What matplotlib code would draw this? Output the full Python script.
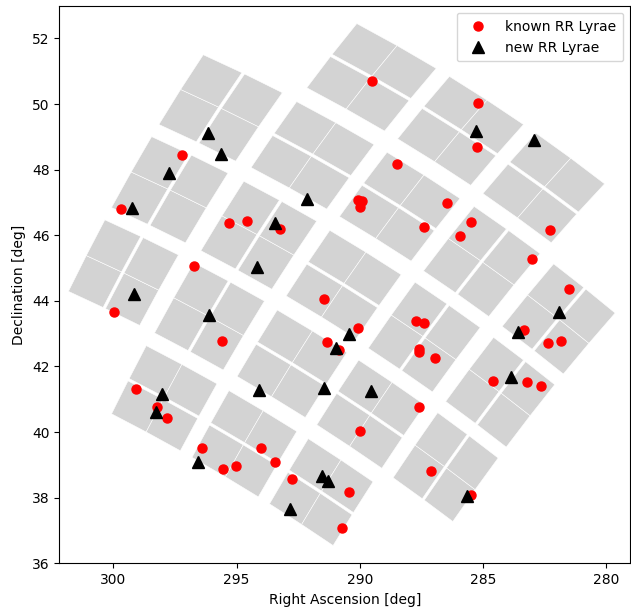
import numpy as np
import matplotlib
matplotlib.use("Agg")
import matplotlib.pyplot as plt
from matplotlib.patches import Polygon

# ---- data ----
known_ra = [289.50, 297.23, 299.70, 295.32, 294.57, 293.24, 290.07, 289.93, 289.99, 296.73,
            291.46, 285.19, 285.25, 288.51, 286.46, 287.41, 285.49, 285.95, 282.29, 283.00,
            281.52, 299.96, 295.61, 290.07, 291.35, 290.84, 289.99, 299.09, 298.22, 297.82,
            296.40, 294.01, 293.43, 295.54, 295.01, 292.74, 290.42, 290.73, 287.72, 287.39,
            287.61, 287.60, 286.95, 287.60, 287.11, 285.50, 284.61, 283.20, 282.65, 283.34,
            282.35, 281.85]
known_dec = [50.71, 48.44, 46.81, 46.36, 46.43, 46.19, 47.08, 47.06, 46.85, 45.05,
             44.05, 50.04, 48.69, 48.16, 46.97, 46.25, 46.40, 45.98, 46.16, 45.27,
             44.36, 43.67, 42.78, 43.16, 42.76, 42.50, 40.02, 41.32, 40.78, 40.43,
             39.50, 39.51, 39.10, 38.89, 38.96, 38.57, 38.16, 37.09, 43.39, 43.33,
             42.54, 42.43, 42.27, 40.75, 38.81, 38.08, 41.57, 41.54, 41.40, 43.11,
             42.72, 42.79]

new_ra = [296.15, 295.63, 297.75, 299.25, 292.16, 293.43, 294.16, 299.15, 296.13, 290.43,
          290.97, 294.08, 291.46, 289.55, 298.04, 298.26, 296.58, 291.55, 291.28, 292.84,
          285.67, 283.85, 283.57, 281.92, 285.27, 282.93]
new_dec = [49.12, 48.49, 47.90, 46.82, 47.11, 46.38, 45.02, 44.22, 43.58, 42.99,
           42.57, 41.27, 41.35, 41.24, 41.17, 40.61, 39.08, 38.65, 38.50, 37.66,
           38.05, 41.67, 43.06, 43.65, 49.19, 48.90]

# ---- Kepler field-of-view geometry (tangent plane, degrees) ----
RA0, DEC0 = 290.67, 44.5
THETA = np.deg2rad(-33.0)
PITCH = 2.86
CCD_LONG, CCD_SHORT, CCD_GAP = 2.44, 1.14, 0.08


def deproject(u, v):
    xi = -np.deg2rad(u)
    eta = np.deg2rad(v)
    d0 = np.deg2rad(DEC0)
    rho = np.hypot(xi, eta)
    c = np.arctan(rho)
    rho = np.where(rho == 0, 1e-12, rho)
    dec = np.arcsin(np.cos(c) * np.sin(d0) + eta * np.sin(c) * np.cos(d0) / rho)
    ra = RA0 + np.rad2deg(np.arctan2(xi * np.sin(c),
                                     rho * np.cos(d0) * np.cos(c) - eta * np.sin(d0) * np.sin(c)))
    return ra, np.rad2deg(dec)


avec = np.array([np.cos(THETA), np.sin(THETA)])
bvec = np.array([-np.sin(THETA), np.cos(THETA)])


def channel_polys():
    polys = []
    for i in range(-2, 3):
        for j in range(-2, 3):
            if abs(i) == 2 and abs(j) == 2:
                continue
            if abs(j) > abs(i):
                orient = 'A'
            elif abs(i) > abs(j):
                orient = 'B'
            elif i == 0:
                orient = 'A'
            else:
                orient = 'B' if i * j > 0 else 'A'
            if orient == 'A':
                lax, sax = avec, bvec
            else:
                lax, sax = bvec, avec
            cen = PITCH * (i * avec + j * bvec)
            for s in (-1, 1):
                ccd_c = cen + s * (CCD_SHORT / 2 + CCD_GAP / 2) * sax
                for t in (-1, 1):
                    ch_c = ccd_c + t * (CCD_LONG / 4) * lax
                    hl, hs = CCD_LONG / 4, CCD_SHORT / 2
                    corners = np.array([ch_c + hl * lax + hs * sax,
                                        ch_c + hl * lax - hs * sax,
                                        ch_c - hl * lax - hs * sax,
                                        ch_c - hl * lax + hs * sax])
                    ra, dec = deproject(corners[:, 0], corners[:, 1])
                    polys.append(np.column_stack([ra, dec]))
    return polys


fig = plt.figure(figsize=(6.31, 6.12), dpi=100)
ax = fig.add_axes([59.3 / 631, 48.7 / 612, (630.3 - 59.3) / 631, (606.3 - 48.7) / 612])

for poly in channel_polys():
    ax.add_patch(Polygon(poly, closed=True, facecolor='lightgray',
                         edgecolor='white', linewidth=0.4, zorder=1))

ax.plot(known_ra, known_dec, 'o', color='red', ms=6.5, ls='none',
        label='known RR Lyrae', zorder=3)
ax.plot(new_ra, new_dec, '^', color='black', ms=8.5, ls='none',
        label='new RR Lyrae', zorder=4)

ax.set_xlim(302.19, 279.03)
ax.set_ylim(36, 53)
ax.set_xlabel('Right Ascension [deg]')
ax.set_ylabel('Declination [deg]')
ax.legend(loc='upper right', borderpad=0.5, handletextpad=1.0)

fig.savefig('out.png', dpi=100)
